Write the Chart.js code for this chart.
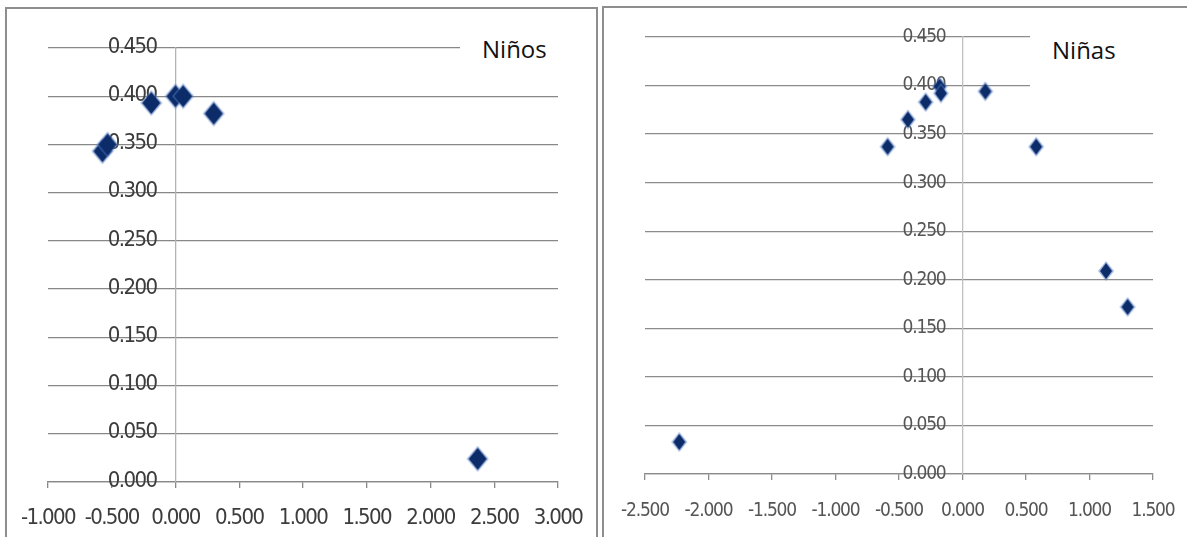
<!DOCTYPE html>
<html>
<head>
<meta charset="utf-8">
<script src="https://cdn.jsdelivr.net/npm/chart.js@4"></script>
<style>
  html, body { margin: 0; padding: 0; background: #fff; }
  body { width: 1187px; height: 537px; position: relative; overflow: hidden; }
  .frame { position: absolute; border: 2px solid #8e8e8e; box-sizing: border-box; background: #fff; }
  .plot { position: absolute; }
  .label {
    position: absolute; background: #fff; color: #111;
    font-family: 'Open Sans', 'Noto Sans', sans-serif; font-size: 24px; line-height: 24px;
    box-sizing: border-box;
  }
</style>
</head>
<body>
<div class="frame" style="left:5px; top:7px; width:593px; height:560px;"></div>
<div class="frame" style="left:602px; top:6px; width:600px; height:560px;"></div>

<canvas id="ninos" class="plot" width="600" height="537" style="left:0; top:0; width:600px; height:537px;"></canvas>
<canvas id="ninas" class="plot" width="587" height="537" style="left:600px; top:0; width:587px; height:537px; filter: blur(0.35px);"></canvas>

<div class="label" style="left:460px; top:24px; width:116px; height:46px; padding:13px 0 0 22px;">Niños</div>
<div class="label" style="left:1030px; top:22px; width:140px; height:86px; padding:16px 0 0 22px;">Niñas</div>

<script>
// Niños: x and y values of each point
const ninosX = [-0.573, -0.533, -0.19, 0.00, 0.06, 0.30, 2.37];
const ninosY = [0.343, 0.350, 0.393, 0.400, 0.400, 0.382, 0.024];

// Niñas: x and y values of each point
const ninasX = [-2.23, -0.59, -0.43, -0.29, -0.18, -0.17, 0.18, 0.58, 1.13, 1.30];
const ninasY = [0.033, 0.337, 0.365, 0.383, 0.399, 0.392, 0.394, 0.337, 0.209, 0.172];

// Axis tick values
const ninosXTicks = [-1.0, -0.5, 0.0, 0.5, 1.0, 1.5, 2.0, 2.5, 3.0];
const ninasXTicks = [-2.5, -2.0, -1.5, -1.0, -0.5, 0.0, 0.5, 1.0, 1.5];
const yTicks = [0.0, 0.05, 0.10, 0.15, 0.20, 0.25, 0.30, 0.35, 0.40, 0.45];

const TICK_FONT = "'Liberation Sans Narrow', 'DejaVu Sans Condensed', 'Liberation Sans', sans-serif";

// Diamond marker with a soft blue rim
function diamond(w, h) {
  const pad = 2;
  const c = document.createElement('canvas');
  c.width = w + pad * 2; c.height = h + pad * 2;
  const g = c.getContext('2d');
  const cx = c.width / 2, cy = c.height / 2;
  const shape = (hw, hh) => {
    g.beginPath();
    g.moveTo(cx, cy - hh); g.lineTo(cx + hw, cy);
    g.lineTo(cx, cy + hh); g.lineTo(cx - hw, cy); g.closePath();
  };
  shape(w / 2 + 1, h / 2 + 1);
  g.fillStyle = 'rgba(90,130,200,0.55)'; g.fill();
  shape(w / 2 - 1, h / 2 - 1);
  g.fillStyle = '#0b2b69'; g.fill();
  return c;
}

function toPoints(xs, ys) { return xs.map((x, i) => ({ x: x, y: ys[i] })); }

// Tighter letter spacing for all axis text, and value labels of the y axis
// drawn just left of the vertical axis line (x = 0), beneath the markers.
const axisText = {
  id: 'axisText',
  beforeDraw(chart, args, o) {
    chart.ctx.letterSpacing = o.spacing + 'px';
  },
  beforeDatasetsDraw(chart, args, o) {
    const { ctx, scales: { x, y } } = chart;
    const px = x.getPixelForValue(0) - o.gap;
    ctx.save();
    ctx.letterSpacing = o.spacing + 'px';
    ctx.font = o.size + 'px ' + TICK_FONT;
    ctx.fillStyle = o.color;
    ctx.textAlign = 'right';
    ctx.textBaseline = 'middle';
    y.ticks.forEach(t => {
      ctx.fillText(t.value.toFixed(3), px, y.getPixelForValue(t.value) + o.dy);
    });
    ctx.restore();
  },
  afterDraw(chart) {
    chart.ctx.letterSpacing = '0px';
  }
};

function makeChart(id, xs, ys, xTicks, opt) {
  new Chart(document.getElementById(id), {
    type: 'scatter',
    data: {
      datasets: [{
        data: toPoints(xs, ys),
        pointStyle: diamond(opt.mw, opt.mh),
        pointRadius: opt.mw / 2,
        pointHoverRadius: opt.mw / 2,
        clip: false
      }]
    },
    plugins: [axisText],
    options: {
      responsive: false,
      animation: false,
      events: [],
      layout: { padding: { left: opt.left, right: opt.right, top: opt.top, bottom: 0 } },
      plugins: {
        legend: { display: false },
        tooltip: { enabled: false },
        title: { display: false },
        axisText: { spacing: opt.ls, size: opt.fs, color: opt.text, gap: opt.yGap, dy: opt.yDy }
      },
      scales: {
        x: {
          type: 'linear',
          position: 'bottom',
          min: xTicks[0],
          max: xTicks[xTicks.length - 1],
          afterBuildTicks: s => { s.ticks = xTicks.map(v => ({ value: v })); },
          afterFit: s => { s.height = opt.axisH; s.paddingLeft = 0; s.paddingRight = 0; },
          grid: { display: true, drawOnChartArea: false, drawTicks: true, tickLength: 6, color: opt.grid, lineWidth: 1.3 },
          border: { display: true, color: opt.grid, width: 1.3 },
          ticks: {
            padding: opt.xPad,
            color: opt.text,
            font: { family: TICK_FONT, size: opt.fs },
            maxRotation: 0,
            autoSkip: false,
            callback: v => v.toFixed(3)
          }
        },
        y: {
          type: 'linear',
          position: { x: 0 },
          min: yTicks[0],
          max: yTicks[yTicks.length - 1],
          afterBuildTicks: s => { s.ticks = yTicks.map(v => ({ value: v })); },
          afterFit: s => { s.paddingTop = 0; s.paddingBottom = 0; },
          grid: { display: true, drawTicks: false, color: opt.grid, lineWidth: 1.3 },
          border: { display: true, color: opt.axis, width: 1.3 },
          ticks: { display: false }
        }
      }
    }
  });
}

makeChart('ninos', ninosX, ninosY, ninosXTicks, {
  left: 48, right: 42, top: 48, axisH: 55,
  fs: 22, ls: -1.6, xPad: 17, yGap: 19, yDy: -1,
  mw: 20, mh: 24,
  text: '#3c3c3c', grid: '#888888', axis: '#b4b4b4'
});

makeChart('ninas', ninasX, ninasY, ninasXTicks, {
  left: 45, right: 34, top: 37, axisH: 63,
  fs: 19, ls: -1.2, xPad: 20, yGap: 17, yDy: 0,
  mw: 14, mh: 18,
  text: '#555555', grid: '#8c8c8c', axis: '#c0c0c0'
});
</script>
</body>
</html>
